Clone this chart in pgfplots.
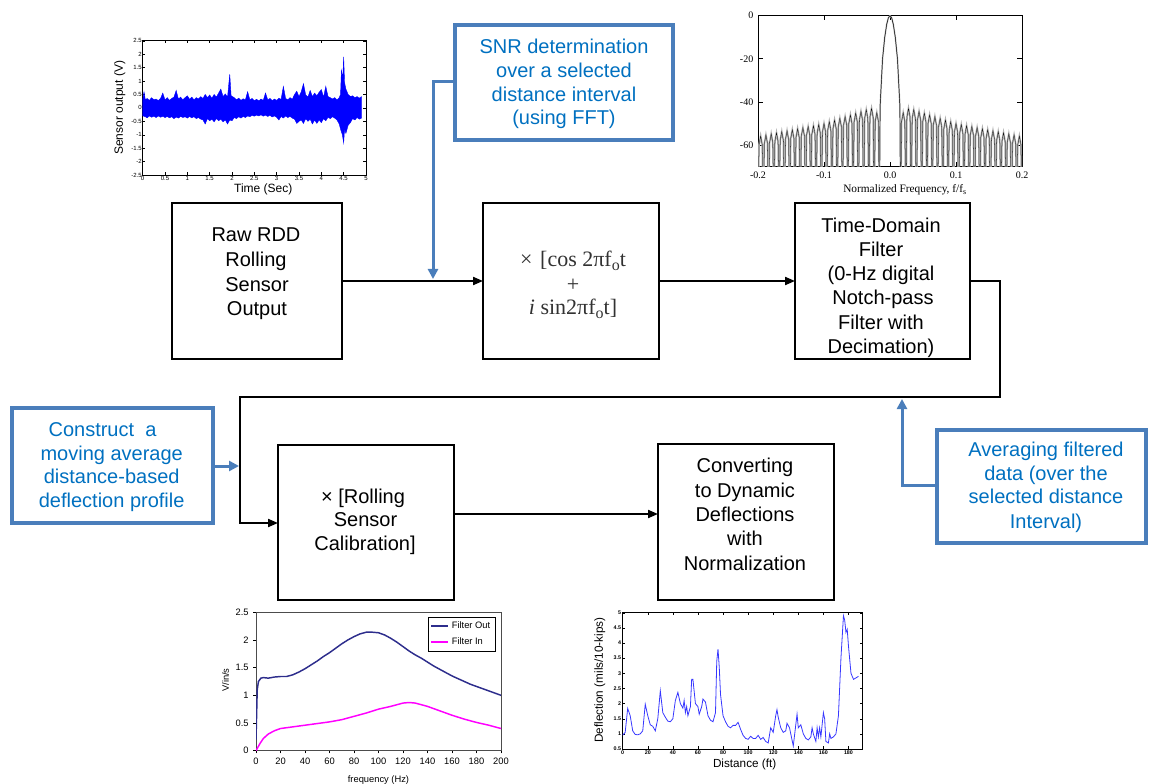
\documentclass[border=0pt]{standalone}
\usepackage{pgfplots}
\pgfplotsset{compat=1.18}
\usepackage{pgfplotstable}
\usepackage{fontspec}
\setmainfont{Liberation Sans}
\newfontfamily\serifrm{Liberation Serif}
\usetikzlibrary{arrows.meta}

\definecolor{bbord}{RGB}{74,126,187}
\definecolor{btext}{RGB}{0,112,192}
\definecolor{navyline}{RGB}{45,45,140}
\definecolor{dblue}{RGB}{55,55,255}
\definecolor{magline}{RGB}{255,0,255}
\definecolor{formula}{RGB}{50,50,50}

% ---------- sensor output (time in 10^4 s): upper then lower envelope ----------
\pgfplotstableread{
t v
0 0.3
0.03 0.6
0.06 0.3
0.1 0.35
0.15 0.28
0.2 0.38
0.25 0.3
0.3 0.33
0.35 0.27
0.4 0.35
0.45 0.55
0.5 0.3
0.55 0.38
0.6 0.28
0.65 0.35
0.7 0.4
0.75 0.65
0.8 0.33
0.85 0.4
0.9 0.3
0.95 0.38
1.0 0.45
1.05 0.32
1.1 0.4
1.15 0.3
1.2 0.38
1.25 0.33
1.3 0.42
1.35 0.35
1.4 0.5
1.45 0.38
1.5 0.48
1.55 0.36
1.6 0.5
1.65 0.4
1.7 0.55
1.75 0.7
1.8 0.42
1.85 0.52
1.9 0.4
1.95 1.25
1.98 0.45
2.05 0.38
2.1 0.3
2.15 0.36
2.2 0.28
2.25 0.34
2.3 0.3
2.35 0.6
2.4 0.3
2.45 0.35
2.5 0.27
2.55 0.32
2.6 0.26
2.65 0.33
2.7 0.28
2.75 0.55
2.8 0.3
2.85 0.35
2.9 0.27
2.95 0.33
3.0 0.28
3.05 0.36
3.1 0.32
3.15 0.8
3.2 0.35
3.25 0.3
3.3 0.38
3.35 0.32
3.4 0.5
3.45 0.62
3.5 0.42
3.55 0.6
3.6 0.9
3.65 0.48
3.7 0.4
3.75 0.65
3.8 0.42
3.85 0.55
3.9 0.45
3.95 0.58
4.0 0.68
4.05 0.4
4.1 0.8
4.15 0.42
4.2 0.38
4.25 0.33
4.3 0.38
4.35 0.3
4.4 0.38
4.43 0.5
4.45 1.4
4.48 1.1
4.5 1.9
4.52 0.95
4.55 0.7
4.6 0.5
4.65 0.42
4.7 0.45
4.75 0.38
4.8 0.42
4.85 0.36
4.9 0.42
4.9 -0.38
4.85 -0.42
4.8 -0.36
4.75 -0.45
4.7 -0.4
4.65 -0.55
4.6 -0.65
4.55 -0.95
4.52 -0.8
4.5 -1.3
4.47 -1.0
4.44 -0.85
4.4 -0.6
4.35 -0.45
4.3 -0.38
4.25 -0.33
4.2 -0.4
4.15 -0.35
4.1 -0.48
4.05 -0.4
4.0 -0.55
3.95 -0.45
3.9 -0.58
3.85 -0.45
3.8 -0.6
3.75 -0.42
3.7 -0.5
3.65 -0.4
3.6 -0.58
3.55 -0.45
3.5 -0.5
3.45 -0.58
3.4 -0.42
3.35 -0.38
3.3 -0.32
3.25 -0.36
3.2 -0.3
3.15 -0.38
3.1 -0.32
3.05 -0.45
3.0 -0.35
2.95 -0.3
2.9 -0.34
2.85 -0.28
2.8 -0.32
2.75 -0.27
2.7 -0.31
2.65 -0.26
2.6 -0.3
2.55 -0.27
2.5 -0.31
2.45 -0.28
2.4 -0.33
2.35 -0.3
2.3 -0.36
2.25 -0.32
2.2 -0.38
2.15 -0.33
2.1 -0.4
2.05 -0.36
2.0 -0.48
1.95 -0.45
1.9 -0.6
1.85 -0.45
1.8 -0.52
1.75 -0.42
1.7 -0.48
1.65 -0.4
1.6 -0.52
1.55 -0.42
1.5 -0.48
1.45 -0.4
1.4 -0.6
1.35 -0.45
1.3 -0.42
1.25 -0.36
1.2 -0.4
1.15 -0.33
1.1 -0.37
1.05 -0.32
1.0 -0.38
0.95 -0.33
0.9 -0.36
0.85 -0.32
0.8 -0.38
0.75 -0.34
0.7 -0.4
0.65 -0.33
0.6 -0.37
0.55 -0.32
0.5 -0.36
0.45 -0.31
0.4 -0.35
0.35 -0.3
0.3 -0.36
0.25 -0.31
0.2 -0.35
0.15 -0.3
0.1 -0.37
0.05 -0.32
0 -0.3
}\sensordata

% ---------- notch filter response (dB) ----------
\pgfplotstableread{
f d
-0.016 -90
-0.015 -42
-0.0113 -20
-0.008 -10
-0.005 -4
-0.0025 -1
0 0
0.0025 -1
0.005 -4
0.008 -10
0.0113 -20
0.015 -42
0.016 -90
}\mainlobe

\pgfplotstableread{
f d
0.016 -90
0.0176 -49
0.020 -45
0.0224 -49
0.024 -90
0.0256 -47
0.028 -43
0.0304 -47
0.032 -90
0.0336 -47.6
0.036 -43.6
0.0384 -47.6
0.040 -90
0.0416 -48.4
0.044 -44.4
0.0464 -48.4
0.048 -90
0.0496 -49.2
0.052 -45.2
0.0544 -49.2
0.056 -90
0.0576 -50
0.060 -46
0.0624 -50
0.064 -90
0.0656 -50.8
0.068 -46.8
0.0704 -50.8
0.072 -90
0.0736 -51.6
0.076 -47.6
0.0784 -51.6
0.080 -90
0.0816 -52.4
0.084 -48.4
0.0864 -52.4
0.088 -90
0.0896 -53.2
0.092 -49.2
0.0944 -53.2
0.096 -90
0.0976 -54
0.100 -50
0.1024 -54
0.104 -90
0.1056 -54.5
0.108 -50.5
0.1104 -54.5
0.112 -90
0.1136 -55
0.116 -51
0.1184 -55
0.120 -90
0.1216 -55.4
0.124 -51.4
0.1264 -55.4
0.128 -90
0.1296 -55.9
0.132 -51.9
0.1344 -55.9
0.136 -90
0.1376 -56.4
0.140 -52.4
0.1424 -56.4
0.144 -90
0.1456 -56.9
0.148 -52.9
0.1504 -56.9
0.152 -90
0.1536 -57.4
0.156 -53.4
0.1584 -57.4
0.160 -90
0.1616 -57.8
0.164 -53.8
0.1664 -57.8
0.168 -90
0.1696 -58.3
0.172 -54.3
0.1744 -58.3
0.176 -90
0.1776 -58.8
0.180 -54.8
0.1824 -58.8
0.184 -90
0.1856 -59.3
0.188 -55.3
0.1904 -59.3
0.192 -90
0.1936 -59.8
0.196 -55.8
0.1984 -59.8
0.200 -90
}\lobesright

\pgfplotstableread{
f d
-0.016 -90
-0.0176 -49
-0.020 -45
-0.0224 -49
-0.024 -90
-0.0256 -47
-0.028 -43
-0.0304 -47
-0.032 -90
-0.0336 -47.6
-0.036 -43.6
-0.0384 -47.6
-0.040 -90
-0.0416 -48.4
-0.044 -44.4
-0.0464 -48.4
-0.048 -90
-0.0496 -49.2
-0.052 -45.2
-0.0544 -49.2
-0.056 -90
-0.0576 -50
-0.060 -46
-0.0624 -50
-0.064 -90
-0.0656 -50.8
-0.068 -46.8
-0.0704 -50.8
-0.072 -90
-0.0736 -51.6
-0.076 -47.6
-0.0784 -51.6
-0.080 -90
-0.0816 -52.4
-0.084 -48.4
-0.0864 -52.4
-0.088 -90
-0.0896 -53.2
-0.092 -49.2
-0.0944 -53.2
-0.096 -90
-0.0976 -54
-0.100 -50
-0.1024 -54
-0.104 -90
-0.1056 -54.5
-0.108 -50.5
-0.1104 -54.5
-0.112 -90
-0.1136 -55
-0.116 -51
-0.1184 -55
-0.120 -90
-0.1216 -55.4
-0.124 -51.4
-0.1264 -55.4
-0.128 -90
-0.1296 -55.9
-0.132 -51.9
-0.1344 -55.9
-0.136 -90
-0.1376 -56.4
-0.140 -52.4
-0.1424 -56.4
-0.144 -90
-0.1456 -56.9
-0.148 -52.9
-0.1504 -56.9
-0.152 -90
-0.1536 -57.4
-0.156 -53.4
-0.1584 -57.4
-0.160 -90
-0.1616 -57.8
-0.164 -53.8
-0.1664 -57.8
-0.168 -90
-0.1696 -58.3
-0.172 -54.3
-0.1744 -58.3
-0.176 -90
-0.1776 -58.8
-0.180 -54.8
-0.1824 -58.8
-0.184 -90
-0.1856 -59.3
-0.188 -55.3
-0.1904 -59.3
-0.192 -90
-0.1936 -59.8
-0.196 -55.8
-0.1984 -59.8
-0.200 -90
}\lobesleft

% ---------- sensor calibration (V/in/s) ----------
\pgfplotstableread{
f v
0 0.2
1 1.1
2 1.25
4 1.31
6 1.32
10 1.31
15 1.33
20 1.34
25 1.34
30 1.37
35 1.42
40 1.48
45 1.55
50 1.62
55 1.7
60 1.77
65 1.85
70 1.93
75 2.0
80 2.06
85 2.11
90 2.14
95 2.14
100 2.13
105 2.09
110 2.03
115 1.96
120 1.88
125 1.8
130 1.73
135 1.67
140 1.6
145 1.53
150 1.47
155 1.41
160 1.35
165 1.3
170 1.25
175 1.2
180 1.16
185 1.12
190 1.08
195 1.04
200 1.0
}\filterout

\pgfplotstableread{
f v
0 0
3 0.12
6 0.22
10 0.3
15 0.36
20 0.4
30 0.43
40 0.46
50 0.49
60 0.52
70 0.56
80 0.62
90 0.68
100 0.75
110 0.8
120 0.86
125 0.87
130 0.86
140 0.8
150 0.72
160 0.64
170 0.57
180 0.51
190 0.46
200 0.4
}\filterin

% ---------- deflection profile (10^-4 mils/10-kips) ----------
\pgfplotstableread{
x d
0 0.96
1 1.0
2 1.05
4 1.84
6 1.6
8 1.1
10 0.98
12 0.97
14 1.0
16 1.1
18 1.98
20 1.6
22 1.3
24 1.25
26 1.1
28 1.5
30 2.42
32 1.7
34 1.55
36 1.42
38 1.4
40 1.5
42 2.1
44 2.37
46 2.0
48 1.85
49 2.1
50 1.7
51 1.9
52 1.6
54 1.9
55 2.8
56 2.8
58 2.0
60 1.9
61 1.65
63 1.9
64 2.15
66 2.05
68 1.6
70 1.45
72 1.4
74 1.7
75 3.4
76 3.8
77 3.2
78 2.3
80 1.6
82 1.4
84 1.25
86 1.2
88 1.28
90 1.28
92 1.38
94 1.15
96 0.95
98 0.85
100 0.82
102 0.92
104 0.85
106 0.85
108 0.95
110 0.82
112 0.88
114 0.75
116 0.7
118 1.2
120 1.05
122 1.6
123 1.8
124 1.55
126 1.2
128 1.05
130 1.1
131 1.35
133 1.2
135 0.8
136 0.6
138 1.3
139 1.65
140 1.2
142 1.3
144 1.0
146 0.85
148 0.8
150 0.9
151 1.2
152 1.0
154 0.75
155 1.2
156 0.9
157 1.2
158 0.9
160 1.7
161 1.5
162 0.75
164 0.7
165 1.0
166 0.85
168 0.9
170 1.0
172 1.6
174 3.5
176 4.9
177 4.75
178 4.35
179 4.45
180 3.9
182 3.0
184 2.8
186 2.85
188 2.9
}\deflection

\begin{document}
\begin{tikzpicture}
\useasboundingbox (0pt,0pt) rectangle (861.75pt,-588pt);

% ================= flow chart (1 unit = 1 px, y downward as negative) =================
\begin{scope}[x=0.75pt,y=0.75pt,line join=miter]
  \tikzset{
    blk/.style={draw=black,line width=1.5pt},
    arr/.style={line width=1.5pt,-{Triangle[length=7.5pt,width=6pt]}},
    bbox/.style={draw=bbord,line width=3pt},
    barr/.style={draw=bbord,line width=2.25pt,-{Triangle[length=7.5pt,width=7.5pt]}},
    mt/.style={anchor=base,inner sep=0pt,font=\fontsize{15}{18}\selectfont},
    bt/.style={anchor=base,inner sep=0pt,text=btext,font=\fontsize{15}{18}\selectfont},
    ft/.style={anchor=base,inner sep=0pt,text=formula,font=\serifrm\fontsize{16.5}{20}\selectfont}
  }
  % process blocks
  \draw[blk] (172,-203) rectangle (342,-359);
  \draw[blk] (483,-203) rectangle (659,-359);
  \draw[blk] (795,-203) rectangle (970,-359);
  \draw[blk] (278,-445) rectangle (454,-600);
  \draw[blk] (658,-444) rectangle (834,-600);

  % signal path
  \draw[arr] (342,-281) -- (483,-281);
  \draw[arr] (659,-281) -- (795,-281);
  \draw[arr] (970,-281) -- (1000,-281) -- (1000,-397) -- (240,-397) -- (240,-523) -- (278,-523);
  \draw[arr] (454,-514) -- (658,-514);

  % annotation boxes
  \draw[bbox] (455,-25) rectangle (673,-140);
  \draw[bbox] (12,-408) rectangle (213,-523);
  \draw[bbox] (937,-430) rectangle (1146,-543);
  \draw[barr] (455,-82) -- (433,-82) -- (433,-279);
  \draw[barr] (213,-466) -- (239,-466);
  \draw[barr] (937,-485) -- (902,-485) -- (902,-399);

  % block texts
  \node[mt] at (256,-241.7) {Raw RDD};
  \node[mt] at (256,-266.5) {Rolling};
  \node[mt] at (257,-291.2) {Sensor};
  \node[mt] at (257,-315.7) {Output};

  \node[ft] at (573,-266.7) {×\hspace{0.35em}[cos 2πf\raisebox{-0.35ex}{\fontsize{12}{12}\selectfont o}t};
  \node[ft] at (573,-291.5) {+};
  \node[ft] at (573,-315) {\textit{i} sin2πf\raisebox{-0.35ex}{\fontsize{12}{12}\selectfont o}t]};

  \node[mt] at (881,-232.3) {Time-Domain};
  \node[mt] at (881,-257) {Filter};
  \node[mt] at (881,-281) {(0-Hz digital};
  \node[mt] at (883,-305) {Notch-pass};
  \node[mt] at (881,-329) {Filter with};
  \node[mt] at (881,-353.3) {Decimation)};

  \node[mt] at (363,-503.3) {× [Rolling};
  \node[mt] at (365.5,-526.7) {Sensor};
  \node[mt] at (365,-550) {Calibration]};

  \node[mt] at (745,-472.3) {Converting};
  \node[mt] at (745,-497.5) {to Dynamic};
  \node[mt] at (745,-521.7) {Deflections};
  \node[mt] at (745,-545.7) {with};
  \node[mt] at (745,-570.5) {Normalization};

  % annotation texts
  \node[bt] at (564,-53.3) {SNR determination};
  \node[bt] at (564,-77.3) {over a selected};
  \node[bt] at (564,-101.7) {distance interval};
  \node[bt] at (564,-125) {(using FFT)};

  \node[bt] at (102.5,-436) {Construct\ \ a};
  \node[bt] at (111.7,-460) {moving average};
  \node[bt] at (111.7,-483.3) {distance-based};
  \node[bt] at (111.7,-507.3) {deflection profile};

  \node[bt] at (1046,-456) {Averaging filtered};
  \node[bt] at (1046,-480) {data (over the};
  \node[bt] at (1046,-503.3) {selected distance};
  \node[bt] at (1046,-528.3) {Interval)};
\end{scope}

% ================= raw sensor output =================
\begin{axis}[
  at={(107.0pt,-131.25pt)}, anchor=south west, scale only axis,
  width=167.5pt, height=100.7pt,
  xmin=0, xmax=5, ymin=-2.5, ymax=2.5,
  xtick={0,0.5,1,1.5,2,2.5,3,3.5,4,4.5,5},
  ytick={-2.5,-2,-1.5,-1,-0.5,0,0.5,1,1.5,2,2.5},
  scaled ticks=false,
  tick align=inside, major tick length=2pt,
  every tick/.style={black,line width=0.3pt},
  axis line style={line width=0.4pt},
  /pgf/number format/assume math mode=true,
  tick label style={font=\fontsize{4.5}{5}\selectfont, inner sep=0.6pt},
  xlabel={Time (Sec)}, ylabel={Sensor output (V)},
  label style={font=\fontsize{9}{10}\selectfont},
  xlabel style={at={(axis description cs:0.54,-0.105)}, anchor=center},
  ylabel style={at={(axis description cs:-0.102,0.5)}, anchor=center},
  clip=true,
]
  \addplot[draw=blue, fill=blue, line width=0.3pt] table[x=t,y=v] {\sensordata} -- cycle;
  \node[font=\fontsize{3.8}{4}\selectfont, inner sep=0pt] at (rel axis cs:0.96,-0.075) {x 10\textsuperscript{4}};
\end{axis}

% ================= notch filter response =================
\begin{axis}[
  at={(568.5pt,-125.0pt)}, anchor=south west, scale only axis,
  width=198pt, height=113.25pt,
  xmin=-0.2, xmax=0.2, ymin=-70, ymax=0,
  xtick={-0.2,-0.1,0,0.1,0.2}, ytick={-60,-40,-20,0},
  tick align=inside, major tick length=3.5pt,
  every tick/.style={black,line width=0.6pt},
  axis line style={line width=0.6pt},
  /pgf/number format/assume math mode=true,
  xticklabel style={/pgf/number format/.cd,fixed,fixed zerofill,precision=1},
  tick label style={font=\serifrm\fontsize{7.5}{8}\selectfont},
  xlabel={Normalized Frequency, f/f\textsubscript{s}},
  xlabel style={font=\serifrm\fontsize{8.5}{9}\selectfont, at={(axis description cs:0.557,-0.154)}, anchor=center},
  clip=true,
]
  \addplot[gray!60, line width=1.3pt] table[x=f,y=d] {\lobesleft};
  \addplot[gray!60, line width=1.3pt] table[x=f,y=d] {\lobesright};
  \addplot[black, line width=0.2pt] table[x=f,y=d] {\lobesleft};
  \addplot[black, line width=0.2pt] table[x=f,y=d] {\lobesright};
  \addplot[gray!60, line width=1.1pt] table[x=f,y=d] {\mainlobe};
  \addplot[black, line width=0.35pt] table[x=f,y=d] {\mainlobe};
\end{axis}

% ================= calibration curve =================
\begin{axis}[
  at={(192pt,-563pt)}, anchor=south west, scale only axis,
  width=183.75pt, height=103.8pt,
  xmin=0, xmax=200, ymin=0, ymax=2.5,
  xtick={0,20,...,200}, ytick={0,0.5,1,1.5,2,2.5},
  tick pos=left, tick align=outside, major tick length=2pt,
  every tick/.style={black,line width=0.4pt},
  axis line style={black!70,line width=0.5pt},
  /pgf/number format/assume math mode=true,
  tick label style={font=\fontsize{7}{8}\selectfont},
  xlabel={frequency (Hz)}, ylabel={V/in/s},
  label style={font=\fontsize{7}{8}\selectfont},
  xlabel style={at={(axis description cs:0.5,-0.212)}, anchor=center},
  ylabel style={at={(axis description cs:-0.124,0.51)}, anchor=center},
  legend style={at={(rel axis cs:0.976,0.968)}, anchor=north east,
    font=\fontsize{7}{8}\selectfont, draw=black, line width=0.4pt,
    inner sep=1.5pt, row sep=1.5pt, cells={anchor=west}},
  legend image code/.code={\draw[#1,line width=1.1pt] (0pt,0pt) -- (13pt,0pt);},
]
  \addplot[navyline, line width=1.1pt] table[x=f,y=v] {\filterout};
  \addlegendentry{Filter Out}
  \addplot[magline, line width=1.1pt] table[x=f,y=v] {\filterin};
  \addlegendentry{Filter In}
\end{axis}

% ================= deflection profile =================
\begin{axis}[
  at={(467.0pt,-561.75pt)}, anchor=south west, scale only axis,
  width=179.7pt, height=102.2pt,
  xmin=0, xmax=191, ymin=0.5, ymax=5,
  xtick={0,20,...,180}, ytick={0.5,1,1.5,2,2.5,3,3.5,4,4.5,5},
  scaled ticks=false,
  tick align=inside, major tick length=2pt,
  every tick/.style={black,line width=0.3pt},
  axis line style={line width=0.4pt},
  /pgf/number format/assume math mode=true,
  tick label style={font=\bfseries\fontsize{4}{4.5}\selectfont, inner sep=1pt},
  xlabel={Distance (ft)}, ylabel={Deflection (mils/10-kips)},
  label style={font=\fontsize{8.8}{10}\selectfont},
  xlabel style={at={(axis description cs:0.509,-0.112)}, anchor=center},
  ylabel style={at={(axis description cs:-0.095,0.506)}, anchor=center},
]
  \addplot[dblue, line width=0.6pt] table[x=x,y=d] {\deflection};
  \node[font=\fontsize{3.8}{4}\selectfont, inner sep=0pt] at (rel axis cs:0.04,1.045) {x 10\textsuperscript{-4}};
\end{axis}
\end{tikzpicture}
\end{document}
